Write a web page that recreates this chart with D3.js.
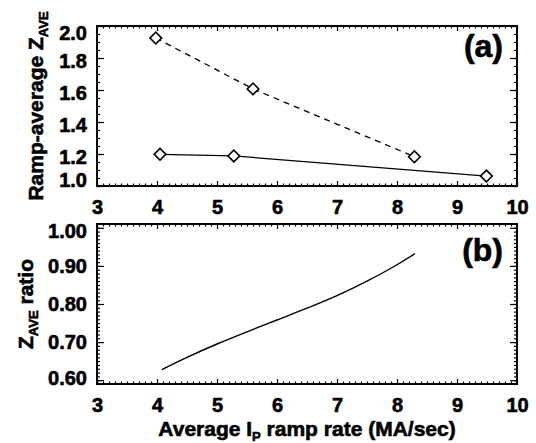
<!DOCTYPE html>
<html>
<head>
<meta charset="utf-8">
<script src="https://cdn.jsdelivr.net/npm/d3@7"></script>
<style>
  body { margin: 0; background: #fff; }
  text { font-family: "Liberation Sans", Arial, Helvetica, sans-serif; font-weight: bold; fill: #000; stroke: #000; stroke-width: 0.6px; }
</style>
</head>
<body>
<div id="chart"></div>
<script>
// panel (a): ramp-average Z_AVE vs ramp rate
var dashedX = [3.98, 5.6, 8.29];
var dashedY = [1.925, 1.607, 1.183];
var solidX = [4.05, 5.28, 9.49];
var solidY = [1.198, 1.188, 1.062];

// panel (b): Z_AVE ratio curve
var ratioX = [4.08, 4.5, 5.0, 5.5, 6.0, 6.5, 7.0, 7.5, 8.0, 8.3];
var ratioY = [0.628, 0.660, 0.695, 0.727, 0.758, 0.789, 0.822, 0.860, 0.903, 0.932];

var xTicks = [3, 4, 5, 6, 7, 8, 9, 10];
var aTicks = [1.0, 1.2, 1.4, 1.6, 1.8, 2.0];
var bTicks = [0.60, 0.70, 0.80, 0.90, 1.00];

var width = 536, height = 443;
var left = 97, right = 517;

var svg = d3.select("#chart")
    .append("svg")
        .attr("width", width)
        .attr("height", height);

var x = d3.scaleLinear()
    .domain([3, 10])
    .range([left, right]);

var yA = d3.scaleLinear()
    .domain([1.0, 2.0])
    .range([186, 26]);

var yB = d3.scaleLinear()
    .domain([0.59, 1.01])
    .range([384, 224]);

// minor tick lists
var xMinor = d3.range(30, 101).map(function(d) { return d / 10; })
    .filter(function(d) { return Math.abs(d - Math.round(d)) > 1e-6; });
var aMinor = d3.range(20, 41).map(function(d) { return d / 20; });
var bMinor = d3.range(59, 102).map(function(d) { return d / 100; });

function drawPanel(y, top, bottom, yMajor, yMinor, fmt, labelShift) {
    var g = svg.append("g");

    // bottom axis, labels + inward ticks
    g.append("g")
        .attr("transform", "translate(0," + bottom + ")")
        .call(d3.axisBottom(x).tickValues(xMinor).tickSize(-2.5).tickSizeOuter(0).tickFormat(""));
    g.append("g")
        .attr("class", "xlab")
        .attr("transform", "translate(0," + bottom + ")")
        .call(d3.axisBottom(x).tickValues(xTicks).tickSize(-5).tickSizeOuter(0).tickPadding(14).tickFormat(d3.format("d")));

    // top axis, ticks only
    g.append("g")
        .attr("transform", "translate(0," + top + ")")
        .call(d3.axisTop(x).tickValues(xMinor).tickSize(-2.5).tickSizeOuter(0).tickFormat(""));
    g.append("g")
        .attr("transform", "translate(0," + top + ")")
        .call(d3.axisTop(x).tickValues(xTicks).tickSize(-5).tickSizeOuter(0).tickFormat(""));

    // left axis
    g.append("g")
        .attr("transform", "translate(" + left + ",0)")
        .call(d3.axisLeft(y).tickValues(yMinor).tickSize(-3).tickSizeOuter(0).tickFormat(""));
    var yl = g.append("g")
        .attr("class", "ylab")
        .attr("transform", "translate(" + left + ",0)")
        .call(d3.axisLeft(y).tickValues(yMajor).tickSize(-7).tickSizeOuter(0).tickPadding(10).tickFormat(fmt));

    // right axis
    g.append("g")
        .attr("transform", "translate(" + right + ",0)")
        .call(d3.axisRight(y).tickValues(yMinor).tickSize(-3).tickSizeOuter(0).tickFormat(""));
    g.append("g")
        .attr("transform", "translate(" + right + ",0)")
        .call(d3.axisRight(y).tickValues(yMajor).tickSize(-7).tickSizeOuter(0).tickFormat(""));

    g.selectAll(".domain").remove();
    g.selectAll(".tick line").attr("stroke", "#000").attr("stroke-width", 1.2);
    g.selectAll("g").attr("font-family", null).attr("font-size", null);
    g.selectAll(".xlab text, .ylab text")
        .style("font-weight", "bold")
        .style("font-size", "20px");

    // keep end labels inside the frame (like the original)
    yl.selectAll(".tick").each(function(d) {
        var py = y(d) + labelShift;
        var clamped = Math.max(top + 7.5, Math.min(bottom - 5.5, py));
        d3.select(this).select("text").attr("y", clamped - y(d));
    });

    // frame
    g.append("rect")
        .attr("x", left)
        .attr("y", top)
        .attr("width", right - left)
        .attr("height", bottom - top)
        .attr("fill", "none")
        .attr("stroke", "#000")
        .attr("stroke-width", 2);

    return g;
}

var gA = drawPanel(yA, 26, 186, aTicks, aMinor, d3.format(".1f"), 3);
var gB = drawPanel(yB, 224, 384, bTicks, bMinor, d3.format(".2f"), 0);

/* PANEL (a) LINES */
var lineA = d3.line()
    .x(function(d) { return x(d[0]); })
    .y(function(d) { return yA(d[1]); });

var dashedPts = dashedX.map(function(d, i) { return [d, dashedY[i]]; });
var solidPts = solidX.map(function(d, i) { return [d, solidY[i]]; });

gA.append("path")
    .datum(dashedPts)
    .attr("d", lineA)
    .attr("fill", "none")
    .attr("stroke", "#000")
    .attr("stroke-width", 1.3)
    .attr("stroke-dasharray", "6,5");

gA.append("path")
    .datum(solidPts)
    .attr("d", lineA)
    .attr("fill", "none")
    .attr("stroke", "#000")
    .attr("stroke-width", 1.3);

var diamond = d3.symbol().type(d3.symbolSquare).size(68);

gA.selectAll(".mark")
    .data(dashedPts.concat(solidPts))
    .enter().append("path")
        .attr("class", "mark")
        .attr("d", diamond)
        .attr("transform", function(d) { return "translate(" + x(d[0]) + "," + yA(d[1]) + ") rotate(45)"; })
        .attr("fill", "#fff")
        .attr("stroke", "#000")
        .attr("stroke-width", 1.6);

/* PANEL (b) LINE */
var ratioPts = ratioX.map(function(d, i) { return [d, ratioY[i]]; });

gB.append("path")
    .datum(ratioPts)
    .attr("d", d3.line()
        .curve(d3.curveMonotoneX)
        .x(function(d) { return x(d[0]); })
        .y(function(d) { return yB(d[1]); }))
    .attr("fill", "none")
    .attr("stroke", "#000")
    .attr("stroke-width", 1.4);

/* PANEL LABELS */
svg.append("text")
    .attr("x", 503)
    .attr("y", 57)
    .attr("text-anchor", "end")
    .style("font-size", "32px")
    .text("(a)");

svg.append("text")
    .attr("x", 503)
    .attr("y", 261)
    .attr("text-anchor", "end")
    .style("font-size", "32px")
    .text("(b)");

/* AXIS TITLES */
var tA = svg.append("text")
    .attr("transform", "translate(43,106) rotate(-90)")
    .attr("text-anchor", "middle")
    .style("font-size", "21px");
tA.append("tspan").text("Ramp-average Z");
tA.append("tspan").attr("dy", 5).style("font-size", "13px").text("AVE");

var tB = svg.append("text")
    .attr("transform", "translate(33,304) rotate(-90)")
    .attr("text-anchor", "middle")
    .style("font-size", "21px");
tB.append("tspan").text("Z");
tB.append("tspan").attr("dy", 5).style("font-size", "13px").text("AVE");
tB.append("tspan").attr("dy", -5).text(" ratio");

var tX = svg.append("text")
    .attr("x", 307)
    .attr("y", 436)
    .attr("text-anchor", "middle")
    .style("font-size", "21px");
tX.append("tspan").text("Average I");
tX.append("tspan").attr("dy", 5).style("font-size", "13px").text("P");
tX.append("tspan").attr("dy", -5).text(" ramp rate (MA/sec)");
</script>
</body>
</html>
